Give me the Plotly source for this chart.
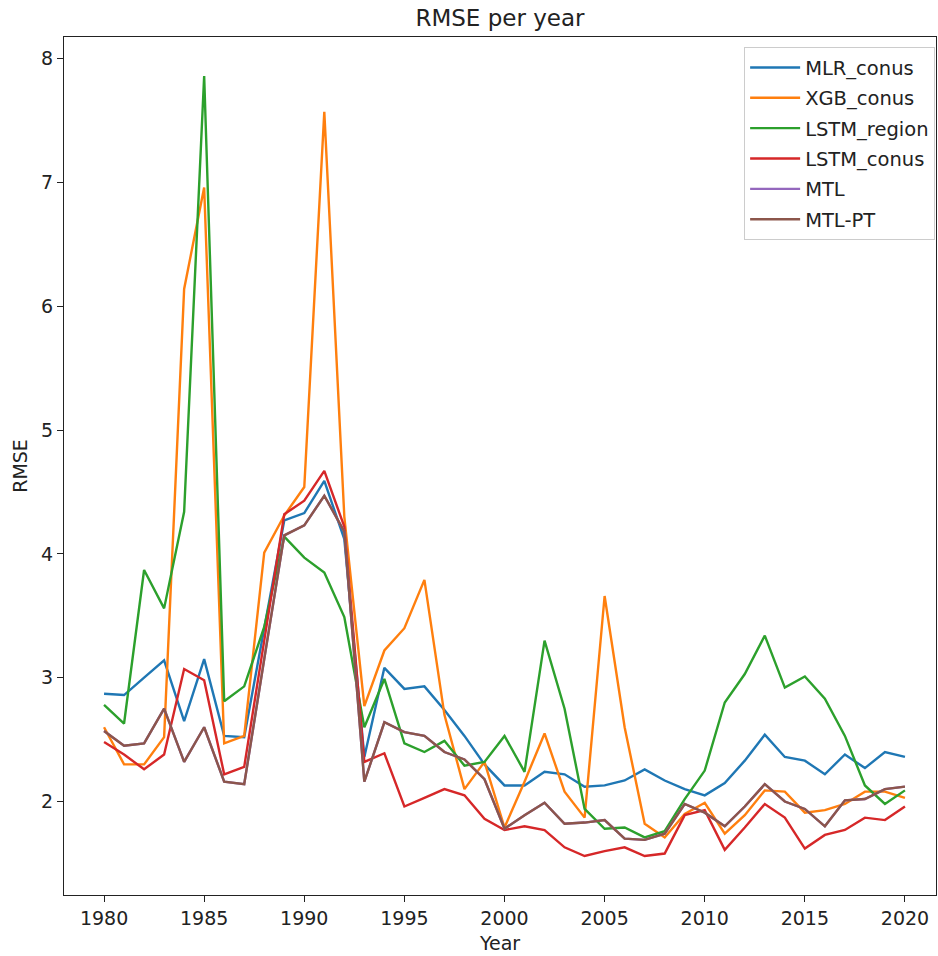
import plotly.graph_objects as go

years = list(range(1980, 2021))

mlr_conus = [2.87, 2.86, 3.00, 3.14, 2.65, 3.15, 2.53, 2.52, 3.40, 4.27,
             4.33, 4.59, 4.12, 2.36, 3.08, 2.91, 2.93, 2.74, 2.53, 2.30,
             2.13, 2.13, 2.24, 2.22, 2.12, 2.13, 2.17, 2.26, 2.17, 2.10,
             2.05, 2.15, 2.33, 2.54, 2.36, 2.33, 2.22, 2.38, 2.27, 2.40,
             2.36]
xgb_conus = [2.60, 2.30, 2.30, 2.52, 6.14, 6.96, 2.47, 2.53, 4.01, 4.31,
             4.54, 7.57, 4.30, 2.77, 3.22, 3.40, 3.79, 2.70, 2.10, 2.32,
             1.79, 2.16, 2.55, 2.08, 1.87, 3.66, 2.60, 1.82, 1.71, 1.90,
             1.99, 1.74, 1.89, 2.09, 2.08, 1.91, 1.93, 1.98, 2.08, 2.08,
             2.03]
lstm_region = [2.78, 2.63, 3.87, 3.56, 4.34, 7.86, 2.81, 2.93, 3.41, 4.14,
               3.97, 3.85, 3.49, 2.60, 2.99, 2.47, 2.40, 2.49, 2.29, 2.32,
               2.53, 2.24, 3.30, 2.75, 1.94, 1.78, 1.79, 1.71, 1.76, 2.02,
               2.25, 2.80, 3.03, 3.34, 2.92, 3.01, 2.83, 2.53, 2.13, 1.98,
               2.09]
lstm_conus = [2.48, 2.38, 2.26, 2.38, 3.07, 2.98, 2.22, 2.28, 3.30, 4.32,
              4.43, 4.67, 4.22, 2.32, 2.39, 1.96, 2.03, 2.10, 2.05, 1.86,
              1.77, 1.80, 1.77, 1.63, 1.56, 1.60, 1.63, 1.56, 1.58, 1.89,
              1.93, 1.61, 1.79, 1.98, 1.87, 1.62, 1.73, 1.77, 1.87, 1.85,
              1.96]
mtl_pt = [2.57, 2.45, 2.47, 2.75, 2.32, 2.60, 2.16, 2.14, 3.15, 4.15,
          4.23, 4.47, 4.18, 2.16, 2.64, 2.56, 2.53, 2.40, 2.34, 2.18,
          1.78, 1.89, 1.99, 1.82, 1.83, 1.85, 1.70, 1.69, 1.74, 1.98,
          1.91, 1.80, 1.96, 2.14, 2.00, 1.94, 1.80, 2.01, 2.02, 2.10,
          2.12]
mtl = list(mtl_pt)

series_names = ["MLR_conus", "XGB_conus", "LSTM_region", "LSTM_conus", "MTL", "MTL-PT"]
series_values = [mlr_conus, xgb_conus, lstm_region, lstm_conus, mtl, mtl_pt]
colors = ["#1f77b4", "#ff7f0e", "#2ca02c", "#d62728", "#9467bd", "#8c564b"]

fig = go.Figure()
for name, vals, col in zip(series_names, series_values, colors):
    fig.add_trace(go.Scatter(x=years, y=vals, mode="lines", name=name,
                             legendgroup=name,
                             line=dict(color=col, width=2.4)))

all_vals = [v for s in series_values for v in s]
ymin, ymax = min(all_vals), max(all_vals)
ypad = 0.05 * (ymax - ymin)
xpad = 0.05 * (years[-1] - years[0])

font = "DejaVu Sans, sans-serif"
axis_common = dict(showline=True, linecolor="#222", linewidth=1.3, mirror=True,
                   ticks="outside", ticklen=6, tickwidth=1.3, tickcolor="#222",
                   showgrid=False, zeroline=False,
                   tickfont=dict(family=font, size=19, color="#222"))

fig.update_layout(
    width=938, height=956,
    margin=dict(l=64, r=2, t=37, b=61),
    paper_bgcolor="white", plot_bgcolor="white",
    font=dict(family=font, size=19, color="#222"),
    title=dict(text="RMSE per year", x=0.5, xref="paper", xanchor="center",
               y=1 - 18 / 956, yanchor="middle",
               font=dict(family=font, size=23, color="#222")),
    xaxis=dict(range=[years[0] - xpad, years[-1] + 1.55], tick0=1980, dtick=5,
               title=dict(text="Year", standoff=8, font=dict(family=font, size=19)),
               **axis_common),
    yaxis=dict(range=[ymin - ypad, ymax + ypad], tick0=2, dtick=1,
               title=dict(text="RMSE", standoff=8, font=dict(family=font, size=19)),
               **axis_common),
    legend=dict(x=0.999, y=0.988, xanchor="right", yanchor="top",
                bgcolor="rgba(255,255,255,0.8)", bordercolor="#cccccc", borderwidth=1,
                font=dict(family=font, size=19.5, color="#222"),
                tracegroupgap=2, itemwidth=50),
    showlegend=True,
)

fig.write_html("out.html")
